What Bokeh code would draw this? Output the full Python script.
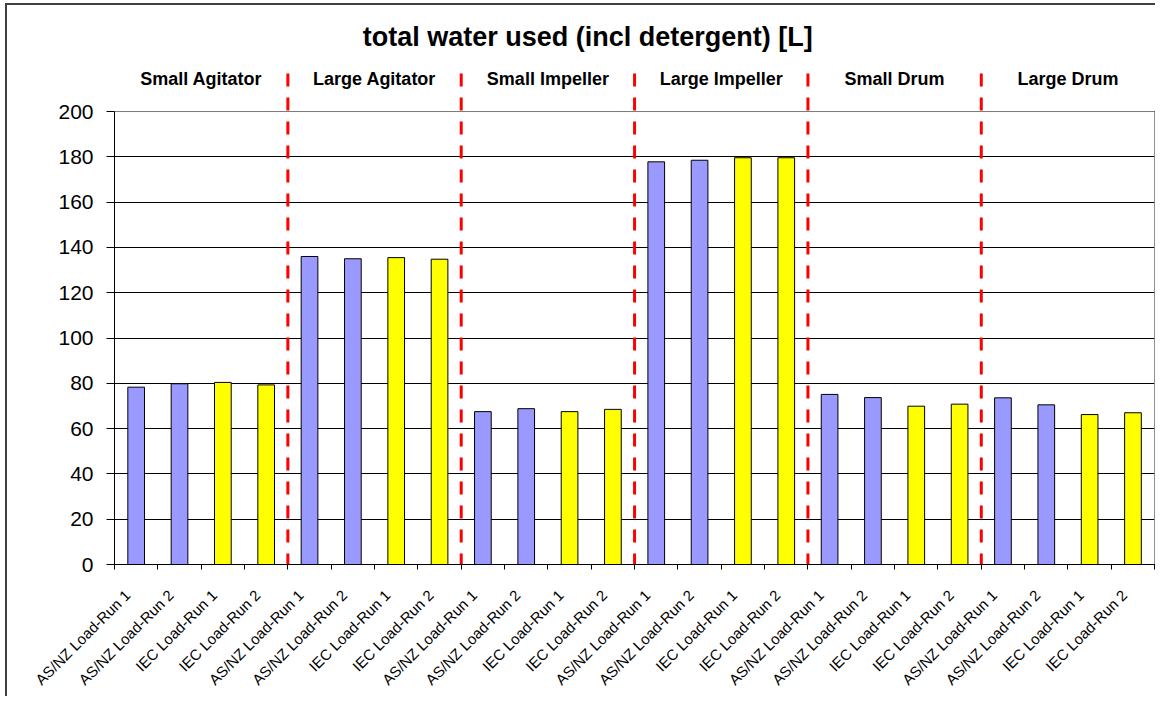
from bokeh.plotting import figure
from bokeh.models import Range1d, FixedTicker, ColumnDataSource
from bokeh.core.properties import value
from bokeh.embed import file_html
from bokeh.resources import INLINE

# ---- data ----
title_text = "total water used (incl detergent) [L]"
groups = ["Small Agitator", "Large Agitator", "Small Impeller",
          "Large Impeller", "Small Drum", "Large Drum"]
runs = ["AS/NZ Load-Run 1", "AS/NZ Load-Run 2", "IEC Load-Run 1", "IEC Load-Run 2"]
run_colors = ["#9999FF", "#9999FF", "#FFFF00", "#FFFF00"]
water_used = [
    78.3, 79.8, 80.4, 79.3,      # Small Agitator
    136.0, 135.0, 135.5, 134.8,  # Large Agitator
    67.5, 68.8, 67.5, 68.5,      # Small Impeller
    177.8, 178.5, 179.6, 179.6,  # Large Impeller
    75.1, 73.7, 69.9, 70.8,      # Small Drum
    73.6, 70.5, 66.2, 67.0,      # Large Drum
]
y_ticks = [0, 20, 40, 60, 80, 100, 120, 140, 160, 180, 200]

labels = [r for g in groups for r in runs]
colors = [c for g in groups for c in run_colors]
xs = list(range(len(labels)))

FONT = "Liberation Sans"
LABEL_SHIFT = -0.2  # rotated labels end slightly left of bar centre

p = figure(width=1150, height=693, output_backend="svg", toolbar_location=None,
           x_range=Range1d(-0.5, 23.52), y_range=Range1d(0, 245.5),
           min_border_left=107, min_border_right=2, min_border_top=3,
           min_border_bottom=134)
p.outline_line_color = None
p.background_fill_color = "white"
p.border_fill_color = "white"
p.styles = {"margin-left": "5px", "margin-top": "3px",
            "border-left": "2px solid #404040", "border-top": "2px solid #404040"}

# grid
p.xgrid.visible = False
p.ygrid.ticker = FixedTicker(ticks=y_ticks)
p.ygrid.grid_line_color = "#000000"
p.ygrid.grid_line_width = 1

# y axis
p.yaxis.ticker = FixedTicker(ticks=y_ticks)
p.yaxis.bounds = (0, 200)
p.yaxis.axis_line_color = "black"
p.yaxis.major_tick_out = 8
p.yaxis.major_tick_in = 0
p.yaxis.minor_tick_out = 0
p.yaxis.minor_tick_in = 0
p.yaxis.major_label_text_font = FONT
p.yaxis.major_label_text_font_size = "21px"
p.yaxis.major_label_text_color = "black"
p.yaxis.major_label_standoff = 13

# x axis
label_pos = [x + LABEL_SHIFT for x in xs]
p.xaxis.ticker = FixedTicker(ticks=label_pos,
                             minor_ticks=[i - 0.5 for i in range(len(xs) + 1)])
p.xaxis.major_label_overrides = {float(pos): lab for pos, lab in zip(label_pos, labels)}
p.xaxis.major_label_orientation = 0.785398
p.xaxis.major_tick_out = 0
p.xaxis.major_tick_in = 0
p.xaxis.minor_tick_out = 5
p.xaxis.minor_tick_in = 0
p.xaxis.minor_tick_line_color = "black"
p.xaxis.axis_line_color = "black"
p.xaxis.major_label_text_font = FONT
p.xaxis.major_label_text_font_size = "15px"
p.xaxis.major_label_text_color = "black"
p.xaxis.major_label_standoff = 23

# bars
src = ColumnDataSource(dict(x=xs, top=water_used, color=colors))
p.vbar(x="x", top="top", bottom=0, width=0.385, fill_color="color",
       line_color="black", line_width=1, source=src)

# right border of plot area and top line
p.segment(x0=[23.5], y0=[0], x1=[23.5], y1=[200], line_color="#808080", line_width=1)
p.segment(x0=[-0.5], y0=[200], x1=[23.5], y1=[200], line_color="#808080", line_width=1)

# group separators
sep_x = [4 * (i + 1) - 0.5 for i in range(len(groups) - 1)]
p.segment(x0=sep_x, y0=[216.8] * len(sep_x), x1=sep_x, y1=[0] * len(sep_x),
          line_color="#FF0000", line_width=3, line_dash="13 11")

# group labels
gx = [4 * i + 1.5 for i in range(len(groups))]
p.text(x=gx, y=[214.2] * len(groups), text=groups, text_align="center",
       text_baseline="alphabetic", text_font=value(FONT), text_font_style="bold",
       text_font_size="18px", text_color="black")

# title
p.text(x=[10.42], y=[233.0], text=[title_text], text_align="center",
       text_baseline="alphabetic", text_font=value(FONT), text_font_style="bold",
       text_font_size="27px", text_color="black")

open("out.html", "w").write(file_html(p, INLINE))
